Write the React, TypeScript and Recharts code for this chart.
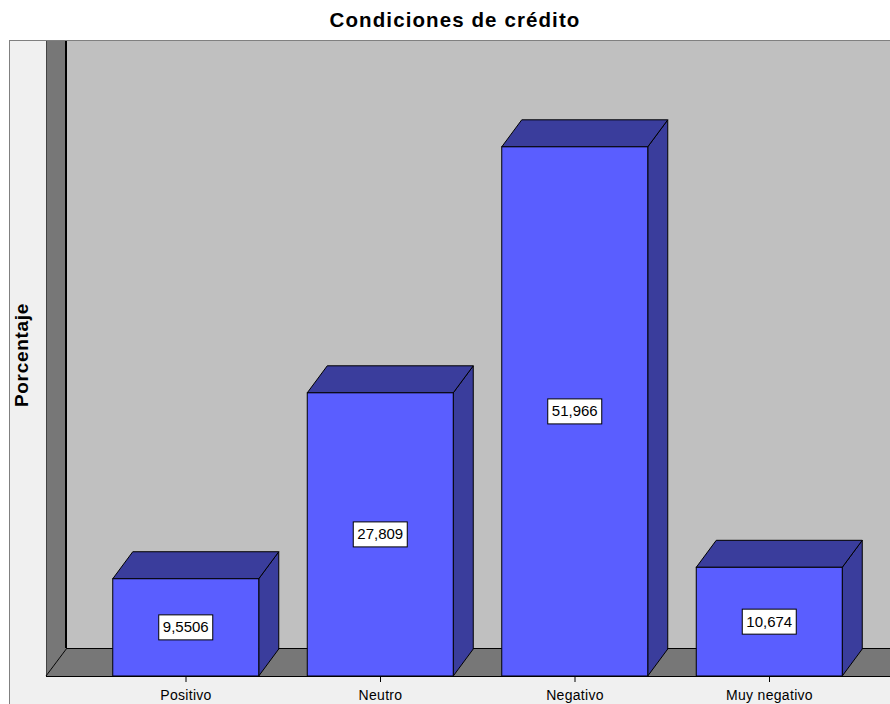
import React from 'react';
import { BarChart, Bar, XAxis, YAxis, LabelList } from 'recharts';

const categories = ['Positivo', 'Neutro', 'Negativo', 'Muy negativo'];
const porcentajes = [9.5506, 27.809, 51.966, 10.674];
const yDomain = [0, 60];

const data = categories.map((c, i) => ({ name: c, value: porcentajes[i] }));

const W = 890;
const H = 704;
const FONT = 'Liberation Sans, Arial, sans-serif';
// 3D depth of the bars and walls
const DX = 20;
const DY = 27;
const FLOOR_Y = 676;
const MARGIN = { top: 65, right: 23.25, left: 88.75, bottom: 0 };

const FRONT = '#5a5eff';
const SIDE = '#3a3d9c';

const Bar3D = (props: any) => {
  const { x, y, width, height } = props;
  if (!height || height <= 0) return null;
  const top = `${x},${y} ${x + DX},${y - DY} ${x + width + DX},${y - DY} ${x + width},${y}`;
  const side = `${x + width},${y} ${x + width + DX},${y - DY} ${x + width + DX},${y + height - DY} ${x + width},${y + height}`;
  return (
    <g>
      <polygon points={side} fill={SIDE} stroke="#000" strokeWidth={1} />
      <polygon points={top} fill={SIDE} stroke="#000" strokeWidth={1} />
      <rect x={x} y={y} width={width} height={height} fill={FRONT} stroke="#000" strokeWidth={1} />
    </g>
  );
};

const ValueBox = (props: any) => {
  const { x, y, width, height, value } = props;
  const label = String(value).replace('.', ',');
  const cx = x + width / 2;
  const cy = y + height / 2;
  const bw = label.length * 8 + 6;
  const bh = 25;
  return (
    <g>
      <rect x={cx - bw / 2} y={cy - bh / 2} width={bw} height={bh} fill="#fff" stroke="#000" strokeWidth={1} />
      <text x={cx} y={cy + 5} textAnchor="middle" fontSize={15} fontFamily={FONT} fill="#000">
        {label}
      </text>
    </g>
  );
};

// gray frame, walls and floor behind the bars
const Backdrop = () => {
  const backX = 67;
  const backY = 41;
  const floorBack = FLOOR_Y - DY - 1;
  return (
    <svg width={W} height={H} style={{ position: 'absolute', left: 0, top: 0 }}>
      <rect x={9.5} y={40.5} width={900} height={700} fill="#f0f0f0" stroke="#808080" />
      <rect x={backX} y={backY} width={W - backX} height={floorBack - backY} fill="#c0c0c0" />
      <polygon points={`46,${backY} ${backX},${backY} ${backX},${floorBack} 46,${FLOOR_Y}`} fill="#777" />
      <polygon points={`46,${FLOOR_Y} ${backX},${floorBack} ${W},${floorBack} ${W},${FLOOR_Y}`} fill="#777" />
      <line x1={46.5} y1={backY} x2={46.5} y2={FLOOR_Y} stroke="#444" />
      <line x1={backX - 1} y1={backY} x2={backX - 1} y2={floorBack} stroke="#000" strokeWidth={2} />
      <line x1={backX} y1={floorBack + 0.5} x2={W} y2={floorBack + 0.5} stroke="#000" />
      <line x1={46} y1={FLOOR_Y} x2={backX} y2={floorBack} stroke="#000" />
      <line x1={46} y1={FLOOR_Y + 0.5} x2={W} y2={FLOOR_Y + 0.5} stroke="#000" />
      <text x={455} y={27} textAnchor="middle" fontSize={20.5} fontWeight="bold" letterSpacing={1.1} fontFamily={FONT} fill="#000">
        Condiciones de crédito
      </text>
      <text
        x={0}
        y={0}
        transform="translate(28,355) rotate(-90)"
        textAnchor="middle"
        fontSize={19}
        fontWeight="bold"
        letterSpacing={0.7}
        fontFamily={FONT}
        fill="#000"
      >
        Porcentaje
      </text>
    </svg>
  );
};

export default function App() {
  return (
    <div style={{ position: 'absolute', left: 0, top: 0, width: W, height: H, background: '#fff' }}>
      <Backdrop />
      <div style={{ position: 'absolute', left: 0, top: 0 }}>
        <BarChart width={W} height={H} data={data} margin={MARGIN} barSize={146}>
          <XAxis
            dataKey="name"
            height={28}
            axisLine={false}
            tickLine={{ stroke: '#000' }}
            tickSize={6}
            tickMargin={8}
            tick={{ fontSize: 14, fill: '#000', fontFamily: FONT, letterSpacing: 0.3 }}
            interval={0}
          />
          <YAxis hide width={0} domain={yDomain} />
          <Bar dataKey="value" shape={<Bar3D />} isAnimationActive={false}>
            <LabelList dataKey="value" content={<ValueBox />} />
          </Bar>
        </BarChart>
      </div>
    </div>
  );
}
